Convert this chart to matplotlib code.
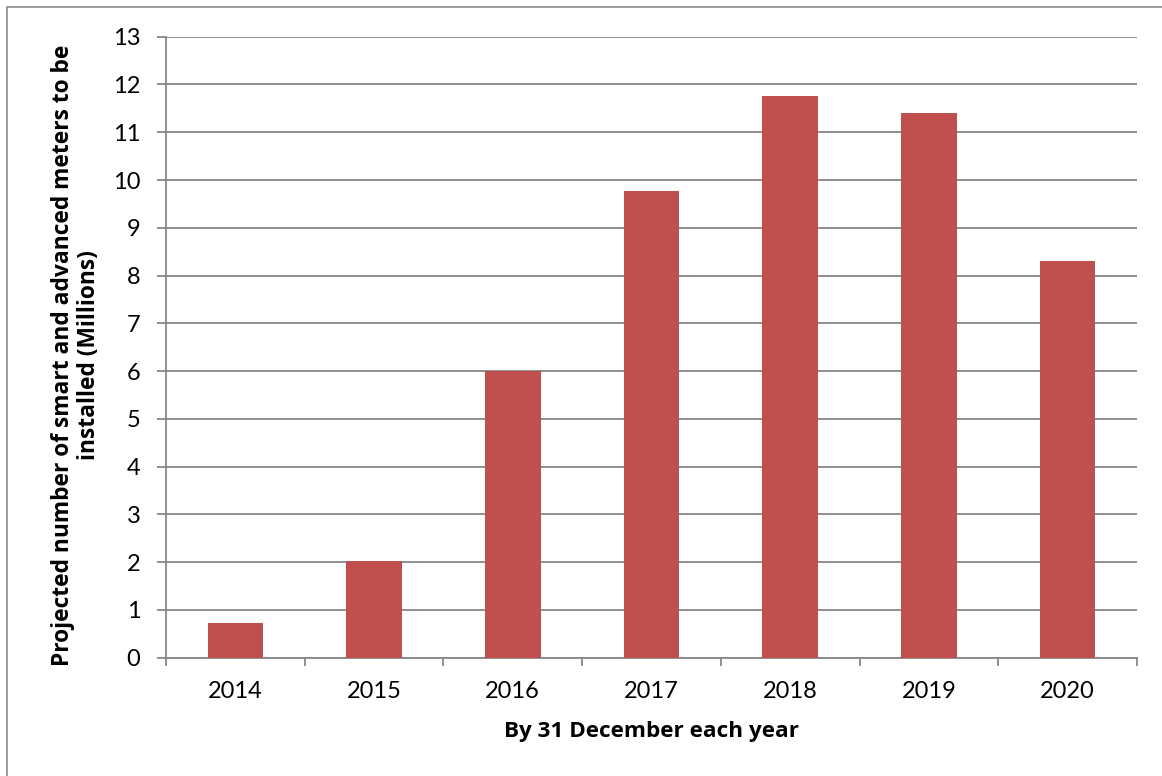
import matplotlib
matplotlib.use("Agg")
import matplotlib.pyplot as plt
from matplotlib.patches import Rectangle
import numpy as np

# Data
years = ["2014", "2015", "2016", "2017", "2018", "2019", "2020"]
meters = [0.73, 2.03, 6.0, 9.76, 11.76, 11.40, 8.30]

bar_color = "#C0504D"
grid_color = "#878787"
plt.rcParams['font.family'] = ['Lato', 'DejaVu Sans']

W, H = 1162, 776
fig = plt.figure(figsize=(W / 100, H / 100), dpi=100)

# outer chart border (Excel-style frame, cropped on right/bottom)
fig.patches.append(Rectangle((7 / W, -0.1), 1.2, 1 - 7 / H + 0.1, transform=fig.transFigure,
                             fill=False, edgecolor="#8c8c8c", linewidth=1.2))

left, right, top, bottom = 166, 1137, 36.7, 657.7
ax = fig.add_axes([left / W, (H - bottom) / H, (right - left) / W, (bottom - top) / H])

x = np.arange(len(years))
ax.bar(x, meters, width=0.4, color=bar_color, zorder=3)

ax.set_xlim(-0.5, len(years) - 0.5)
ax.set_ylim(0, 13)
ax.set_yticks(range(0, 14))
ax.set_xticks(x)
ax.set_xticklabels(years)
ax.set_xticks(np.arange(-0.5, len(years)), minor=True)

ax.grid(axis='y', color=grid_color, linewidth=1.3, zorder=0)
for s in ['top', 'right']:
    ax.spines[s].set_visible(False)
for s in ['left', 'bottom']:
    ax.spines[s].set_color(grid_color)
    ax.spines[s].set_linewidth(1.3)

ax.tick_params(axis='y', length=6.5, width=1.3, color=grid_color, pad=12, labelsize=17)
ax.tick_params(axis='x', which='major', length=0, pad=17, labelsize=17)
ax.tick_params(axis='x', which='minor', length=6, width=1.3, color=grid_color)

label_font = ['Open Sans', 'DejaVu Sans']
fig.text(651 / W, 1 - 732 / H, "By 31 December each year", ha='center', va='center',
         fontsize=16.2, fontweight='bold', family=label_font)
fig.text(76 / W, 1 - 355 / H, "Projected number of smart and advanced meters to be\ninstalled (Millions)",
         ha='center', va='center', rotation=90, multialignment='center',
         fontsize=16.4, fontweight='bold', family=label_font, linespacing=1.15)

fig.savefig("out.png", dpi=100)
